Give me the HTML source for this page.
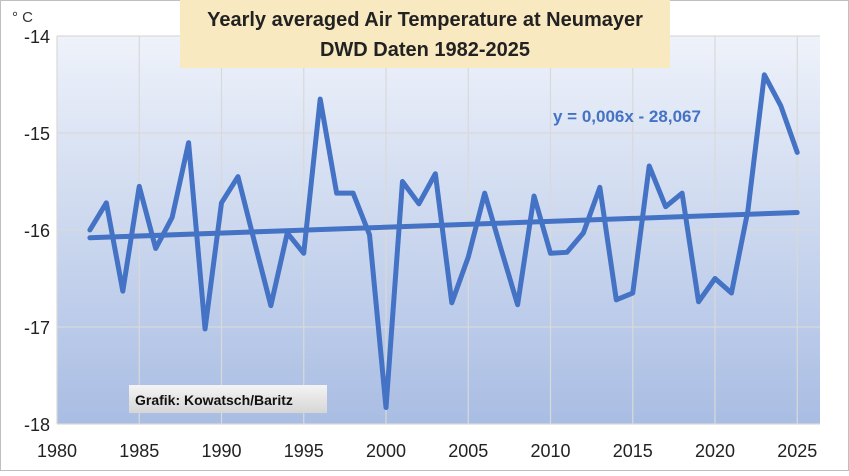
<!DOCTYPE html>
<html><head><meta charset="utf-8"><style>
body{margin:0;background:#fff;font-family:"Liberation Sans",sans-serif}
svg text{font-family:"Liberation Sans",sans-serif}
</style></head><body>
<svg width="849" height="471" xmlns="http://www.w3.org/2000/svg">
<defs>
<linearGradient id="bg" x1="0" y1="0" x2="0" y2="1"><stop offset="0" stop-color="#eef2fa"/><stop offset="1" stop-color="#a9bde3"/></linearGradient>
<linearGradient id="gb" x1="0" y1="0" x2="0" y2="1"><stop offset="0" stop-color="#f4f4f4"/><stop offset="1" stop-color="#d6d6d6"/></linearGradient>
</defs>
<rect x="0.5" y="0.5" width="848" height="470" fill="#fff" stroke="#bfbfbf"/>
<rect x="57" y="36" width="763" height="388" fill="url(#bg)"/>
<g id="grid"></g>
<g id="ylabels"></g>
<g id="xlabels"></g>
<text x="12" y="22" font-size="15" fill="#333">° C</text>
<rect x="180" y="0" width="490" height="68" fill="#f9e9c0"/>
<text x="425" y="26" text-anchor="middle" font-size="20" font-weight="bold" fill="#222">Yearly averaged Air Temperature at Neumayer</text>
<text x="425" y="56" text-anchor="middle" font-size="20" font-weight="bold" fill="#222">DWD Daten 1982-2025</text>
<g id="series"></g>
<text x="553" y="122" font-size="17" font-weight="bold" fill="#4472c4">y = 0,006x - 28,067</text>
<rect x="129" y="385" width="198" height="28" fill="url(#gb)"/>
<text x="135" y="405" font-size="14" font-weight="bold" fill="#111">Grafik: Kowatsch/Baritz</text>
</svg>
<script>
const years=[1982,1983,1984,1985,1986,1987,1988,1989,1990,1991,1992,1993,1994,1995,1996,1997,1998,1999,2000,2001,2002,2003,2004,2005,2006,2007,2008,2009,2010,2011,2012,2013,2014,2015,2016,2017,2018,2019,2020,2021,2022,2023,2024,2025];
const temps=[-16.0,-15.72,-16.63,-15.55,-16.19,-15.87,-15.10,-17.02,-15.72,-15.45,-16.12,-16.78,-16.03,-16.24,-14.65,-15.62,-15.62,-16.05,-17.83,-15.5,-15.73,-15.42,-16.75,-16.28,-15.62,-16.2,-16.77,-15.65,-16.24,-16.23,-16.03,-15.56,-16.72,-16.65,-15.34,-15.76,-15.62,-16.74,-16.5,-16.65,-15.8,-14.4,-14.72,-15.2];
const trendStart=-16.08, trendEnd=-15.82;
const yTicks=[-14,-15,-16,-17,-18];
const xTicks=[1980,1985,1990,1995,2000,2005,2010,2015,2020,2025];
const NS="http://www.w3.org/2000/svg";
const X=v=>57+(v-1980)*16.45;
const Y=v=>36+(-14-v)*97;
function mk(t,a,p){const e=document.createElementNS(NS,t);for(const k in a)e.setAttribute(k,a[k]);document.getElementById(p).appendChild(e);return e;}
yTicks.forEach(v=>{
 const l=mk('line',{x1:57,x2:820,y1:Y(v),y2:Y(v),stroke:'#d9d9d9','stroke-width':1.2},'grid');
 
 
 const t=mk('text',{x:50,y:Y(v)+7,'text-anchor':'end','font-size':18,fill:'#222'},'ylabels');
 t.textContent=v;
 
 
});
xTicks.forEach(v=>{
 const l=mk('line',{x1:X(v),x2:X(v),y1:36,y2:424,stroke:'#d9d9d9','stroke-width':1.2},'grid');
 
 
 const t=mk('text',{x:X(v),y:457,'text-anchor':'middle','font-size':18,fill:'#222'},'xlabels');
 t.textContent=v;
 
 
});
const tr=mk('line',{x1:X(years[0]),y1:Y(trendStart),x2:X(years[years.length-1]),y2:Y(trendEnd),stroke:'#4472c4','stroke-width':5,'stroke-linecap':'round'},'series');


const pl=mk('polyline',{points:years.map((y,i)=>X(y)+','+Y(temps[i])).join(' '),fill:'none',stroke:'#4472c4','stroke-width':5,'stroke-linejoin':'round','stroke-linecap':'round'},'series');


</script>
</body></html>
